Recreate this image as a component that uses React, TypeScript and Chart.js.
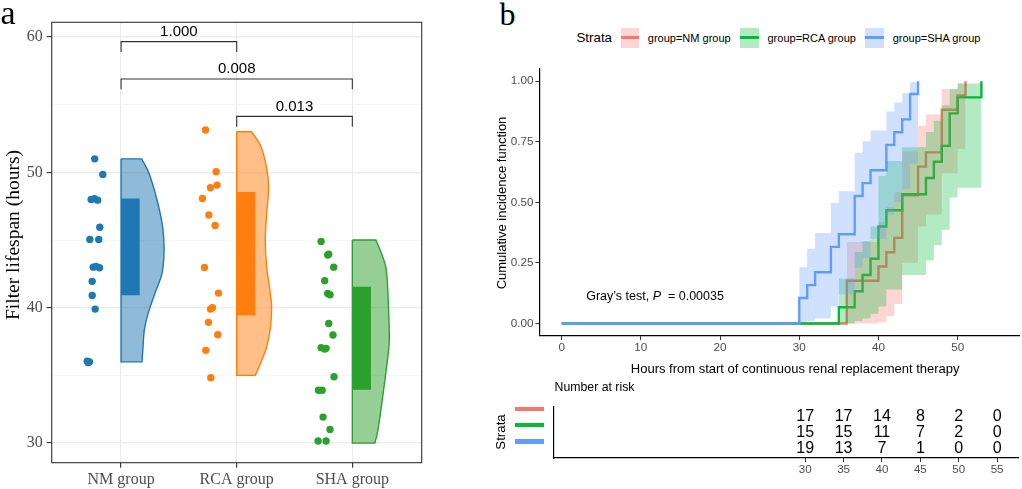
import React, { useEffect, useRef } from "react";
import { Chart, registerables } from "chart.js";

Chart.register(...registerables);

const SERIF = '"Liberation Serif", "Times New Roman", serif';
const SANS = '"Liberation Sans", Arial, sans-serif';

// ---------------- Panel a : filter lifespan ----------------
const groupNames = ["NM group", "RCA group", "SHA group"];
const groupPositions = [0, 1, 2];
const aColors = ["#1f77b4", "#ff7f0e", "#2ca02c"];
const aFills = ["rgba(31,119,180,0.5)", "rgba(255,127,14,0.5)", "rgba(44,160,44,0.5)"];

const nmLifespan = [51.0, 49.85, 48.0, 48.05, 47.95, 45.95, 45.05, 45.05, 43.0, 43.05, 42.95, 41.95, 40.9, 39.9, 36.05, 36.0, 35.95];
const nmJitter = [-0.228, -0.158, -0.259, -0.23, -0.202, -0.184, -0.27, -0.193, -0.241, -0.216, -0.187, -0.25, -0.25, -0.224, -0.293, -0.273, -0.284];
const rcaLifespan = [53.13, 50.05, 48.87, 49.06, 48.08, 46.85, 46.08, 42.98, 41.08, 39.9, 40.0, 38.92, 38.0, 36.85, 34.83];
const rcaJitter = [-0.27, -0.178, -0.227, -0.17, -0.296, -0.241, -0.187, -0.279, -0.158, -0.227, -0.21, -0.244, -0.164, -0.267, -0.224];
const shaLifespan = [44.9, 43.9, 43.95, 43.0, 42.0, 41.05, 40.96, 38.84, 37.98, 37.05, 36.95, 37.0, 34.9, 33.9, 33.9, 31.92, 31.0, 30.15, 30.15];
const shaJitter = [-0.27, -0.213, -0.204, -0.161, -0.239, -0.213, -0.193, -0.204, -0.167, -0.27, -0.239, -0.227, -0.158, -0.293, -0.261, -0.253, -0.193, -0.296, -0.227];

const nmViolinY = [51.0, 50.0, 48.0, 46.0, 44.25, 42.5, 41.0, 39.6, 38.35, 37.1, 36.0];
const nmViolinW = [0.178, 0.239, 0.31, 0.359, 0.372, 0.353, 0.29, 0.235, 0.201, 0.19, 0.181];
const rcaViolinY = [53.0, 52.0, 50.5, 48.9, 46.95, 45.0, 43.0, 41.3, 40.1, 38.6, 37.1, 36.1, 35.0];
const rcaViolinW = [0.129, 0.205, 0.255, 0.276, 0.259, 0.247, 0.259, 0.287, 0.302, 0.293, 0.259, 0.216, 0.161];
const shaViolinY = [45.0, 44.0, 43.0, 41.55, 39.3, 37.4, 35.6, 33.7, 31.95, 30.7, 30.0];
const shaViolinW = [0.204, 0.253, 0.29, 0.305, 0.316, 0.319, 0.296, 0.267, 0.239, 0.216, 0.195];

const nmIqr = [40.93, 48.08];
const rcaIqr = [39.43, 48.55];
const shaIqr = [33.94, 41.55];

const bracketFrom = [0, 0, 1];
const bracketTo = [1, 2, 2];
const bracketLevel = [59.66, 56.9, 54.14];
const bracketText = ["1.000", "0.008", "0.013"];
const yTicksA = [30, 35, 40, 45, 50, 55, 60];

// ---------------- Panel b : cumulative incidence ----------------
const strataLabels = ["group=NM group", "group=RCA group", "group=SHA group"];
const bColors = ["#F8766D", "#00BA38", "#619CFF"];
const bFills = ["rgba(248,118,109,0.3)", "rgba(0,186,56,0.3)", "rgba(97,156,255,0.3)"];

const nmTimes = [0, 36, 40, 41, 42, 43, 45, 46, 48, 50, 51];
const nmCif = [0, 0.176, 0.235, 0.294, 0.353, 0.529, 0.647, 0.706, 0.882, 0.941, 1.0];
const nmLower = [0.0, 0.005, 0.03, 0.08, 0.25, 0.4, 0.45, 0.62, 0.72, 1.0];
const nmUpper = [0.336, 0.42, 0.48, 0.54, 0.71, 0.816, 0.862, 0.968, 0.99, 1.0];

const rcaTimes = [0, 35, 37, 38, 39, 40, 41, 43, 46, 47, 48, 49, 50, 53];
const rcaCif = [0, 0.067, 0.133, 0.2, 0.267, 0.4, 0.467, 0.533, 0.6, 0.667, 0.733, 0.867, 0.933, 1.0];
const rcaLower = [0.0, 0.01, 0.02, 0.04, 0.07, 0.14, 0.2, 0.26, 0.323, 0.387, 0.52, 0.56, 1.0];
const rcaUpper = [0.185, 0.295, 0.34, 0.4, 0.61, 0.67, 0.727, 0.79, 0.837, 0.9, 0.967, 0.99, 1.0];

const shaTimes = [0, 30, 31, 32, 34, 35, 37, 38, 39, 41, 42, 43, 44, 45];
const shaCif = [0, 0.105, 0.158, 0.211, 0.316, 0.368, 0.526, 0.579, 0.632, 0.737, 0.789, 0.842, 0.947, 1.0];
const shaLower = [0.005, 0.01, 0.02, 0.07, 0.12, 0.23, 0.27, 0.35, 0.45, 0.5, 0.556, 0.66, 1.0];
const shaUpper = [0.232, 0.308, 0.373, 0.497, 0.546, 0.704, 0.752, 0.796, 0.875, 0.912, 0.95, 0.995, 1.0];

const xTicksB = [0, 10, 20, 30, 40, 50];
const yTicksB = [0, 0.25, 0.5, 0.75, 1];
const grayPrefix = "Gray\u2019s test, ";
const grayStat = "P";
const graySuffix = "  = 0.00035";
const grayAt = { x: 3.1, y: 0.113 };

const riskTimes = [30, 35, 40, 45, 50, 55];
const nmAtRisk = [17, 17, 14, 8, 2, 0];
const rcaAtRisk = [15, 15, 11, 7, 2, 0];
const shaAtRisk = [19, 13, 7, 1, 0, 0];

// ---------------- helpers ----------------
const BOX_W = 0.161;

function violinShape(c: number, ys: number[], ws: number[]) {
  const top = ys[0];
  const bot = ys[ys.length - 1];
  const pts: { x: number; y: number }[] = [];
  pts.push({ x: c, y: top }, { x: c, y: top });
  pts.push({ x: c + ws[0], y: top }, { x: c + ws[0], y: top });
  for (let i = 1; i < ys.length - 1; i++) pts.push({ x: c + ws[i], y: ys[i] });
  pts.push({ x: c + ws[ws.length - 1], y: bot }, { x: c + ws[ws.length - 1], y: bot });
  pts.push({ x: c, y: bot }, { x: c, y: bot });
  pts.push({ x: c, y: top });
  return pts;
}

function boxShape(c: number, q: number[]) {
  return [
    { x: c, y: q[0] },
    { x: c + BOX_W, y: q[0] },
    { x: c + BOX_W, y: q[1] },
    { x: c, y: q[1] },
    { x: c, y: q[0] },
  ];
}

const setTicks = (vals: number[]) => (s: any) => {
  s.ticks = vals.map((v) => ({ value: v }));
};

const panelBoxPlugin = {
  id: "panelBox",
  afterDraw(chart: any) {
    const { ctx, chartArea: a } = chart;
    ctx.save();
    ctx.strokeStyle = "#333333";
    ctx.lineWidth = 1.1;
    ctx.strokeRect(a.left, a.top, a.right - a.left, a.bottom - a.top);
    ctx.restore();
  },
};

const bracketTextPlugin = {
  id: "bracketText",
  afterDatasetsDraw(chart: any) {
    const { ctx, scales } = chart;
    ctx.save();
    ctx.font = `15px ${SANS}`;
    ctx.fillStyle = "#000";
    ctx.textAlign = "center";
    ctx.textBaseline = "middle";
    bracketText.forEach((t, i) => {
      const px = scales.x.getPixelForValue((bracketFrom[i] + bracketTo[i]) / 2);
      const py = scales.y.getPixelForValue(bracketLevel[i]) - 10;
      ctx.fillText(t, px, py);
    });
    ctx.restore();
  },
};

const grayPlugin = {
  id: "grayText",
  afterDatasetsDraw(chart: any) {
    const { ctx, scales } = chart;
    const px = scales.x.getPixelForValue(grayAt.x);
    const py = scales.y.getPixelForValue(grayAt.y);
    ctx.save();
    ctx.fillStyle = "#000";
    ctx.textAlign = "left";
    ctx.textBaseline = "middle";
    let cx = px;
    ctx.font = `12.5px ${SANS}`;
    ctx.fillText(grayPrefix, cx, py);
    cx += ctx.measureText(grayPrefix).width;
    ctx.font = `italic 12.5px ${SANS}`;
    ctx.fillText(grayStat, cx, py);
    cx += ctx.measureText(grayStat).width;
    ctx.font = `12.5px ${SANS}`;
    ctx.fillText(graySuffix, cx, py);
    ctx.restore();
  },
};

const riskRows = [nmAtRisk, rcaAtRisk, shaAtRisk];
const riskPlugin = {
  id: "riskNumbers",
  afterDatasetsDraw(chart: any) {
    const ctx = chart.ctx;
    ctx.save();
    ctx.font = `16px ${SANS}`;
    ctx.fillStyle = "#000";
    ctx.textAlign = "center";
    ctx.textBaseline = "middle";
    riskRows.forEach((row, i) => {
      const meta = chart.getDatasetMeta(i);
      meta.data.forEach((el: any, j: number) => ctx.fillText(String(row[j]), el.x, el.y));
    });
    ctx.restore();
  },
};

// ---------------- chart configs ----------------
function configA(): any {
  const violins = [
    [nmViolinY, nmViolinW],
    [rcaViolinY, rcaViolinW],
    [shaViolinY, shaViolinW],
  ];
  const iqrs = [nmIqr, rcaIqr, shaIqr];
  const pts = [
    [nmLifespan, nmJitter],
    [rcaLifespan, rcaJitter],
    [shaLifespan, shaJitter],
  ];
  const datasets: any[] = [];
  groupPositions.forEach((c, g) => {
    datasets.push({
      data: violinShape(c, violins[g][0], violins[g][1]),
      showLine: true,
      fill: "shape",
      tension: 0.3,
      backgroundColor: aFills[g],
      borderColor: aColors[g],
      borderWidth: 1.4,
      pointRadius: 0,
      order: 5,
    });
    datasets.push({
      data: boxShape(c, iqrs[g]),
      showLine: true,
      fill: "shape",
      tension: 0,
      backgroundColor: aColors[g],
      borderColor: "rgba(0,0,0,0)",
      borderWidth: 0,
      pointRadius: 0,
      order: 4,
    });
    datasets.push({
      data: pts[g][0].map((v, i) => ({ x: c + pts[g][1][i], y: v })),
      backgroundColor: aColors[g],
      borderWidth: 0,
      pointRadius: 3.7,
      order: 1,
    });
  });
  bracketText.forEach((_, i) => {
    const lv = bracketLevel[i];
    datasets.push({
      data: [
        { x: bracketFrom[i], y: lv - 0.76 },
        { x: bracketFrom[i], y: lv },
        { x: bracketTo[i], y: lv },
        { x: bracketTo[i], y: lv - 0.76 },
      ],
      showLine: true,
      fill: false,
      tension: 0,
      borderColor: "#333333",
      borderWidth: 1.1,
      pointRadius: 0,
      order: 2,
    });
  });
  const major = (c: any) => c.tick && c.tick.value % 10 === 0;
  return {
    type: "scatter",
    data: { datasets },
    options: {
      animation: false,
      responsive: false,
      events: [],
      layout: { padding: { left: 0, right: 48.3, top: 22.3, bottom: 0 } },
      plugins: { legend: { display: false }, tooltip: { enabled: false } },
      scales: {
        x: {
          type: "linear",
          min: -0.6,
          max: 2.6,
          afterBuildTicks: setTicks(groupPositions),
          afterFit: (s: any) => {
            s.height = 26.3;
          },
          ticks: {
            callback: (v: number) => groupNames[v],
            font: { family: SERIF, size: 16 },
            color: "#4d4d4d",
            padding: 2,
            maxRotation: 0,
            autoSkip: false,
          },
          grid: { color: "#ebebeb", lineWidth: 1.2, tickColor: "#333333", tickLength: 5, tickWidth: 1.1 },
          border: { display: false },
        },
        y: {
          type: "linear",
          min: 28.55,
          max: 61.09,
          afterBuildTicks: setTicks(yTicksA),
          afterFit: (s: any) => {
            s.width = 51.7;
          },
          ticks: {
            callback: (v: number) => (v % 10 === 0 ? String(v) : ""),
            font: { family: SERIF, size: 16 },
            color: "#4d4d4d",
            padding: 4,
            autoSkip: false,
          },
          grid: {
            color: (c: any) => (major(c) ? "#ebebeb" : "#f3f3f3"),
            lineWidth: (c: any) => (major(c) ? 1.2 : 0.7),
            tickColor: (c: any) => (major(c) ? "#333333" : "rgba(0,0,0,0)"),
            tickLength: 5,
            tickWidth: 1.1,
          },
          border: { display: false },
        },
      },
    },
    plugins: [panelBoxPlugin, bracketTextPlugin],
  };
}

function configB(): any {
  const groups = [
    [nmTimes, nmCif, nmLower, nmUpper],
    [rcaTimes, rcaCif, rcaLower, rcaUpper],
    [shaTimes, shaCif, shaLower, shaUpper],
  ];
  const datasets: any[] = [];
  groups.forEach((g, i) => {
    const [t, cif] = g;
    datasets.push({
      data: t.map((x, k) => ({ x, y: cif[k] })),
      showLine: true,
      stepped: true,
      fill: false,
      borderColor: bColors[i],
      borderWidth: 2.4,
      pointRadius: 0,
      order: 10 - i,
    });
  });
  groups.forEach((g, i) => {
    const [t, , lo, hi] = g;
    const bt = t.slice(1);
    datasets.push({
      data: bt.map((x, k) => ({ x, y: hi[k] })),
      showLine: true,
      stepped: true,
      fill: "+1",
      backgroundColor: bFills[i],
      borderColor: "rgba(0,0,0,0)",
      borderWidth: 0,
      pointRadius: 0,
      order: 3 - i,
    });
    datasets.push({
      data: bt.map((x, k) => ({ x, y: lo[k] })),
      showLine: true,
      stepped: true,
      fill: false,
      borderColor: "rgba(0,0,0,0)",
      borderWidth: 0,
      pointRadius: 0,
      order: 3 - i,
    });
  });
  return {
    type: "scatter",
    data: { datasets },
    options: {
      animation: false,
      responsive: false,
      events: [],
      layout: { padding: { left: 0, right: 3, top: 8.45, bottom: 0 } },
      plugins: { legend: { display: false }, tooltip: { enabled: false } },
      scales: {
        x: {
          type: "linear",
          min: -2.75,
          max: 57.75,
          afterBuildTicks: setTicks(xTicksB),
          afterFit: (s: any) => {
            s.height = 44.45;
          },
          ticks: { font: { family: SANS, size: 11.7 }, color: "#4d4d4d", padding: 0.5, maxRotation: 0, autoSkip: false },
          grid: { drawOnChartArea: false, tickLength: 4.5, tickColor: "#333333", tickWidth: 1 },
          border: { display: true, color: "#000", width: 1.2 },
        },
        y: {
          type: "linear",
          min: -0.05,
          max: 1.05,
          afterBuildTicks: setTicks(yTicksB),
          afterFit: (s: any) => {
            s.width = 49.9;
          },
          ticks: {
            callback: (v: number) => v.toFixed(2),
            font: { family: SANS, size: 11.7 },
            color: "#4d4d4d",
            padding: 2,
            autoSkip: false,
          },
          grid: { drawOnChartArea: false, tickLength: 4.5, tickColor: "#333333", tickWidth: 1 },
          border: { display: true, color: "#000", width: 1.2 },
        },
      },
    },
    plugins: [grayPlugin],
  };
}

function configC(): any {
  const datasets = riskRows.map((row, i) => ({
    data: riskTimes.map((x) => ({ x, y: i + 1 })),
    pointRadius: 0,
    borderWidth: 0,
    backgroundColor: "rgba(0,0,0,0)",
  }));
  return {
    type: "scatter",
    data: { datasets },
    options: {
      animation: false,
      responsive: false,
      events: [],
      layout: { padding: { left: 0, right: 3.8, top: 11.5, bottom: 0 } },
      plugins: { legend: { display: false }, tooltip: { enabled: false } },
      scales: {
        x: {
          type: "linear",
          min: -2.75,
          max: 57.75,
          afterBuildTicks: setTicks(riskTimes),
          afterFit: (s: any) => {
            s.height = 31;
          },
          ticks: { font: { family: SANS, size: 11.5 }, color: "#4d4d4d", padding: 0.5, maxRotation: 0, autoSkip: false },
          grid: { drawOnChartArea: false, tickLength: 4, tickColor: "#333333", tickWidth: 1 },
          border: { display: true, color: "#000", width: 1.2 },
        },
        y: {
          type: "linear",
          min: 0.4,
          max: 3.6,
          reverse: true,
          afterFit: (s: any) => {
            s.width = 63.8;
          },
          ticks: { display: false },
          grid: { display: false },
          border: { display: true, color: "#000", width: 1.2 },
        },
      },
    },
    plugins: [riskPlugin],
  };
}

// ---------------- HTML text helpers ----------------
type TxtProps = {
  x: number;
  y: number;
  size: number;
  family?: string;
  align?: "left" | "center" | "right";
  rotate?: number;
  color?: string;
  children: React.ReactNode;
};

function Txt({ x, y, size, family = SANS, align = "left", rotate = 0, color = "#000", children }: TxtProps) {
  const tx = align === "center" ? "-50%" : align === "right" ? "-100%" : "0";
  return (
    <div
      style={{
        position: "absolute",
        left: x,
        top: y,
        fontSize: size,
        fontFamily: family,
        color,
        lineHeight: 1,
        whiteSpace: "pre",
        transform: `translate(${tx},-50%)` + (rotate ? ` rotate(${rotate}deg)` : ""),
      }}
    >
      {children}
    </div>
  );
}

const legendKeyX = [620.6, 740, 864.9];
const legendTextX = [647.8, 767.5, 892.7];
const riskKeyY = [408.9, 425.2, 441.5];

export default function App() {
  const aRef = useRef<HTMLCanvasElement>(null);
  const bRef = useRef<HTMLCanvasElement>(null);
  const cRef = useRef<HTMLCanvasElement>(null);

  useEffect(() => {
    const charts = [
      new Chart(aRef.current as HTMLCanvasElement, configA()),
      new Chart(bRef.current as HTMLCanvasElement, configB()),
      new Chart(cRef.current as HTMLCanvasElement, configC()),
    ];
    return () => charts.forEach((c) => c.destroy());
  }, []);

  return (
    <div
      style={{
        position: "absolute",
        left: 0,
        top: 0,
        width: 1022,
        height: 489,
        background: "#fff",
        overflow: "hidden",
      }}
    >
      <canvas ref={aRef} width={470} height={489} style={{ position: "absolute", left: 0, top: 0, width: 470, height: 489 }} />
      <canvas ref={bRef} width={532} height={320} style={{ position: "absolute", left: 490, top: 60, width: 532, height: 320 }} />
      <canvas ref={cRef} width={532} height={94} style={{ position: "absolute", left: 490, top: 395, width: 532, height: 94 }} />

      {/* panel a texts */}
      <Txt x={0.5} y={13} size={34} family={SERIF}>a</Txt>
      <Txt x={12.5} y={235} size={19.5} family={SERIF} align="center" rotate={-90}>
        Filter lifespan (hours)
      </Txt>

      {/* panel b texts */}
      <Txt x={499.5} y={14.4} size={32} family={SERIF}>b</Txt>
      <Txt x={576.5} y={38} size={13.3}>Strata</Txt>
      {strataLabels.map((s, i) => (
        <React.Fragment key={s}>
          <div
            style={{
              position: "absolute",
              left: legendKeyX[i],
              top: 27.5,
              width: 18.7,
              height: 20,
              background: bFills[i],
            }}
          >
            <div style={{ position: "absolute", left: 0, top: 8.8, width: 18.7, height: 2.4, background: bColors[i] }} />
          </div>
          <Txt x={legendTextX[i]} y={38} size={11}>
            {s}
          </Txt>
        </React.Fragment>
      ))}
      <Txt x={500.8} y={203.3} size={13} align="center" rotate={-90}>
        Cumulative incidence function
      </Txt>
      <Txt x={795.2} y={367.5} size={13} align="center">
        Hours from start of continuous renal replacement therapy
      </Txt>
      <Txt x={554.5} y={387.2} size={12.3}>Number at risk</Txt>
      <Txt x={500.5} y={432} size={13.3} align="center" rotate={-90}>
        Strata
      </Txt>
      {riskKeyY.map((y, i) => (
        <div
          key={i}
          style={{ position: "absolute", left: 515.4, top: y - 2.3, width: 29, height: 4.6, background: bColors[i] }}
        />
      ))}
    </div>
  );
}
